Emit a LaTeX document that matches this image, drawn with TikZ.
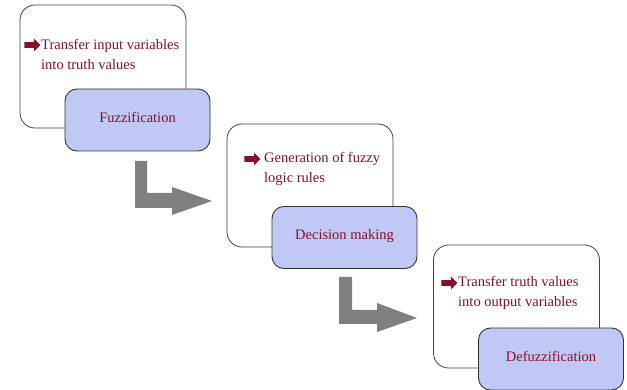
\documentclass[tikz,border=0pt]{standalone}
\usepackage{fontspec}
\setmainfont{Liberation Serif}
\usepackage{xcolor}
\usepackage{tikz}
\usetikzlibrary{shapes.arrows, positioning, calc}

\definecolor{fzred}{RGB}{135,15,40}
\definecolor{fzblue}{RGB}{192,201,245}
\definecolor{fzgray}{RGB}{128,128,128}

\tikzset{
  stagebox/.style={draw=black!75, line width=0.8pt, rounded corners=15pt, fill=white,
    minimum width=166pt, minimum height=123pt, inner sep=0pt},
  labelbox/.style={draw=black!80, line width=0.9pt, rounded corners=12pt, fill=fzblue,
    minimum width=145pt, minimum height=62pt, inner sep=0pt, text depth=6pt,
    font=\fontsize{14.5}{19.5}\selectfont, text=fzred},
  desc/.style={anchor=west, align=left, inner sep=0pt,
    font=\fontsize{14.5}{19.5}\selectfont, text=fzred},
  bullet/.style={single arrow, fill=fzred, draw=none, inner sep=2.6pt,
    minimum height=16pt, single arrow head extend=3.5pt},
  bendarrow/.style={fill=fzgray, draw=none}
}

\begin{document}
\begin{tikzpicture}[x=1pt, y=-1pt]

        \useasboundingbox (0,0) rectangle (627,390);

        %=====================
        % Stage 1
        %=====================
        \node[stagebox] (stage1) at (103,66.5) {};
        \node[bullet] (mark1) at (31,45) {};
        \node[desc] (desc1) at (41,54.5) {Transfer input variables\\into truth values};
        \node[labelbox] (fuzz) at (137.5,120) {Fuzzification};

        %=====================
        % Stage 2
        %=====================
        \node[stagebox] (stage2) at (310,185.5) {};
        \node[bullet] (mark2) at (251,159) {};
        \node[desc] (desc2) at (264,169) {Generation of fuzzy\\logic rules};
        \node[labelbox] (decide) at (344.5,237.5) {Decision making};

        %=====================
        % Stage 3
        %=====================
        \node[stagebox] (stage3) at (516.5,306.5) {};
        \node[bullet] (mark3) at (448,283) {};
        \node[desc] (desc3) at (458,293) {Transfer truth values\\into output variables};
        \node[labelbox] (defuzz) at (551,359) {Defuzzification};

        %=====================
        % Bent arrows between stages
        %=====================
        \fill[bendarrow] (135,161) -- (147,161) -- (147,193) -- (172,193) -- (172,187)
          -- (212,201) -- (172,215) -- (172,208) -- (135,208) -- cycle;

        \fill[bendarrow] (339,277) -- (352,277) -- (352,310) -- (377,310) -- (377,303)
          -- (417,318) -- (377,332) -- (377,324) -- (339,324) -- cycle;

    \end{tikzpicture}
\end{document}
